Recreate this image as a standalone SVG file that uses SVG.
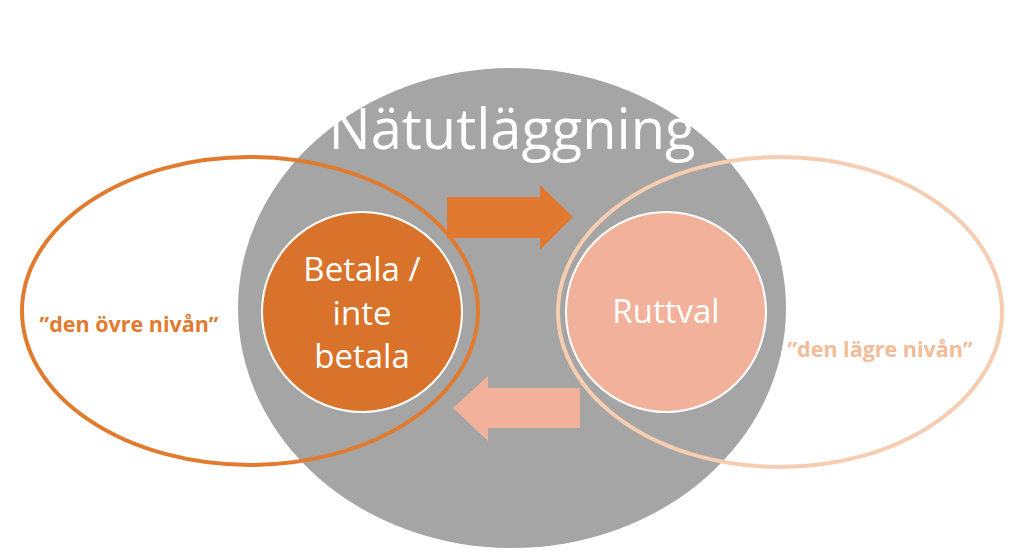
<svg xmlns="http://www.w3.org/2000/svg" width="1024" height="558" viewBox="0 0 1024 558">
<style>
text{font-family:"Open Sans","Noto Sans",sans-serif;text-anchor:middle;fill:#fff}
.lbl{font-weight:bold;font-size:21.5px}
</style>
<rect width="1024" height="558" fill="#fff"/>
<g id="main"><ellipse cx="512" cy="308" rx="274" ry="240" fill="#a5a5a5"/>
<text x="512" y="149" font-size="56">Nätutläggning</text></g>
<g id="betala"><circle cx="362" cy="312" r="100" fill="#d9732c" stroke="#fff" stroke-width="2"/>
<text x="362" y="281" font-size="33">Betala /</text><text x="362" y="325" font-size="33">inte</text><text x="362" y="368" font-size="33">betala</text></g>
<g id="ruttval"><circle cx="666" cy="312" r="100" fill="#f2b19a" stroke="#fff" stroke-width="2"/>
<text x="666" y="323" font-size="33">Ruttval</text></g>
<g id="ovre"><ellipse cx="250" cy="311" rx="228" ry="154" fill="none" stroke="#e07b2f" stroke-width="4"/>
<text class="lbl" x="129" y="332" style="fill:#e07b2f">”den övre nivån”</text></g>
<g id="lagre"><ellipse cx="780" cy="312" rx="222" ry="155" fill="none" stroke="#f6cdb0" stroke-width="4"/>
<text class="lbl" x="880" y="357" style="fill:#f3bc98">”den lägre nivån”</text></g>
<g id="connectors">
<polygon points="447,197 540,197 540,185 573,217 540,250 540,238 447,238" fill="#e0782f"/>
<polygon points="580,388 488,388 488,376 453,408 488,441 488,428 580,428" fill="#f2b19a"/>
</g>
</svg>
